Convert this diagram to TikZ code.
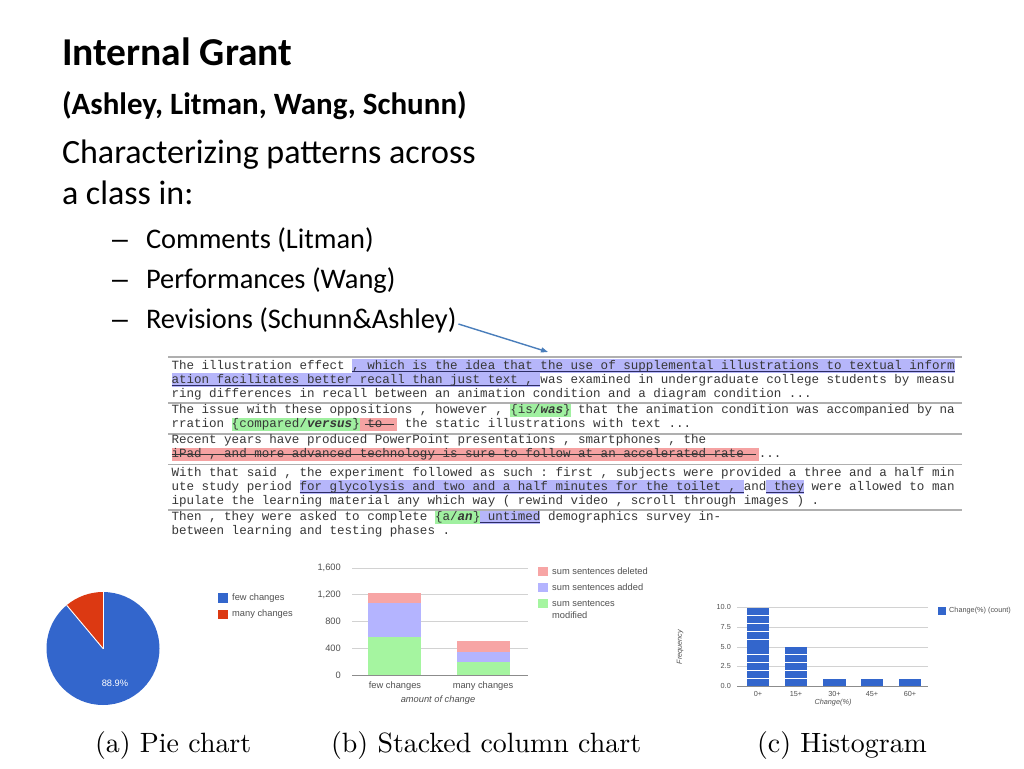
\documentclass[tikz,border=0pt]{standalone}
\usepackage{fontspec}
\usetikzlibrary{arrows.meta,calc}
\newfontfamily\calfont{Carlito}
\newfontfamily\arifont{Liberation Sans}
\newfontfamily\monofont{Liberation Mono}
\newfontfamily\capfont{lmroman10-regular.otf}
\definecolor{txtgray}{RGB}{55,55,55}
\definecolor{hlblue}{RGB}{182,182,250}
\definecolor{hlgreen}{RGB}{160,240,160}
\definecolor{hlred}{RGB}{245,162,162}
\definecolor{ulcol}{RGB}{45,45,100}
\definecolor{sepgray}{RGB}{175,175,175}
\definecolor{pieblue}{RGB}{51,102,204}
\definecolor{piered}{RGB}{220,57,18}
\definecolor{barpink}{RGB}{247,165,165}
\definecolor{barlav}{RGB}{180,180,255}
\definecolor{bargreen}{RGB}{165,245,160}
\definecolor{gridgray}{RGB}{210,210,210}
\definecolor{axisgray}{RGB}{140,140,140}
\definecolor{lblgray}{RGB}{80,80,80}
\definecolor{arrblue}{RGB}{74,126,187}
\newcommand\hlbox[4]{\fill[#1] ({171.5+7.53*#2},{#4-10}) rectangle ({171.5+7.53*#3},{#4+3.5});}
\newcommand\myul[3]{\draw[ulcol,line width=0.8pt] ({171.5+7.53*#1},{#3+2}) -- ({171.5+7.53*#2},{#3+2});}
\newcommand\mystrike[3]{\draw[txtgray,line width=0.8pt] ({171.5+7.53*#1},{#3-3.6}) -- ({171.5+7.53*#2},{#3-3.6});}
\newcommand\bi[1]{\textbf{\textit{#1}}}
\frenchspacing
\begin{document}
\begin{tikzpicture}[x=1pt,y=-1pt,
  txt/.style={anchor=base west,inner sep=0pt,outer sep=0pt},
  ttl/.style={txt,font=\calfont\bfseries\fontsize{39.5}{42}\selectfont},
  subttl/.style={txt,font=\calfont\bfseries\fontsize{31}{34}\selectfont},
  bodytxt/.style={txt,font=\calfont\fontsize{34}{38}\selectfont},
  bul/.style={txt,font=\calfont\fontsize{28.4}{32}\selectfont},
  dashtxt/.style={txt,font=\arifont\fontsize{28.4}{32}\selectfont},
  mtext/.style={txt,text=txtgray,font=\monofont\fontsize{12.55}{14}\selectfont},
  sepline/.style={sepgray,line width=1.2pt},
  captxt/.style={txt,font=\capfont\fontsize{27.9}{30}\selectfont},
  clbl/.style={inner sep=0pt,text=lblgray,font=\arifont\fontsize{9.3}{11}\selectfont},
  hlbl/.style={inner sep=0pt,text=lblgray,font=\arifont\fontsize{7.3}{9}\selectfont},
  gridln/.style={gridgray,line width=0.8pt},
  axisl/.style={axisgray,line width=1pt},
  arr/.style={arrblue,line width=1.4pt,-{Triangle[length=7pt,width=5pt]}}
]
\useasboundingbox[fill=white] (0,0) rectangle (1024,768);

% ---- headings
\node[ttl] (title) at (62,66) {Internal Grant};
\node[subttl] (authors) at (62,114) {(Ashley, Litman, Wang, Schunn)};
\node[bodytxt] (body1) at (62,163) {Characterizing patterns across};
\node[bodytxt] (body2) at (62,204) {a class in:};
\node[dashtxt] (d1) at (112,248) {–};
\node[bul] (b1) at (146,248) {Comments (Litman)};
\node[dashtxt] (d2) at (112,288) {–};
\node[bul] (b2) at (146,288) {Performances (Wang)};
\node[dashtxt] (d3) at (112,328) {–};
\node[bul] (b3) at (146,328) {Revisions (Schunn\&Ashley)};
\coordinate (tip) at (548,352);
\draw[arr] ($(b3.base east)+(2,-4)$) -- (tip);

% ---- revision text block
\foreach \yy in {357,403,434,464.5,510} {\draw[sepline] (168,\yy) -- (962,\yy);}
% highlights
\hlbox{hlblue}{24}{104}{369} \myul{24}{104}{369}
\hlbox{hlblue}{0}{49}{383} \myul{0}{49}{383}
\hlbox{hlgreen}{45}{53}{413.5}
\hlbox{hlgreen}{8}{25}{427.5}
\hlbox{hlred}{25}{30}{427.5}
\hlbox{hlred}{0}{78}{457.5}
\hlbox{hlblue}{17}{76}{490} \myul{17}{76}{490}
\hlbox{hlblue}{79}{84}{490} \myul{79}{84}{490}
\hlbox{hlgreen}{35}{41}{520.5}
\hlbox{hlblue}{41}{49}{520.5} \myul{41}{49}{520.5}
% rows
\node[mtext] (r1) at (171.5,369) {The illustration effect , which is the idea that the use of supplemental illustrations to textual inform};
\node[mtext] (r2) at (171.5,383) {ation facilitates better recall than just text , was examined in undergraduate college students by measu};
\node[mtext] (r3) at (171.5,397) {ring differences in recall between an animation condition and a diagram condition ...};
\node[mtext] (r4) at (171.5,413.5) {The issue with these oppositions , however , \{is/\bi{was}\} that the animation condition was accompanied by na};
\node[mtext] (r5) at (171.5,427.5) {rration \{compared/\bi{versus}\} to\ \ \ the static illustrations with text ...};
\node[mtext] (r6) at (171.5,443.5) {Recent years have produced PowerPoint presentations , smartphones , the};
\node[mtext] (r7) at (171.5,457.5) {iPad , and more advanced technology is sure to follow at an accelerated rate\ \ ...};
\node[mtext] (r8) at (171.5,476) {With that said , the experiment followed as such : first , subjects were provided a three and a half min};
\node[mtext] (r9) at (171.5,490) {ute study period for glycolysis and two and a half minutes for the toilet , and they were allowed to man};
\node[mtext] (r10) at (171.5,504) {ipulate the learning material any which way ( rewind video , scroll through images ) .};
\node[mtext] (r11) at (171.5,520.5) {Then , they were asked to complete \{a/\bi{an}\} untimed demographics survey in-};
\node[mtext] (r12) at (171.5,534.5) {between learning and testing phases .};
\mystrike{25.7}{29.6}{427.5}
\mystrike{0}{77.6}{457.5}

% ---- pie chart
\fill[pieblue] (103,648.5) -- ++(270:56.5) arc[start angle=270,end angle=590,radius=56.5] -- cycle;
\fill[piered] (103,648.5) -- ++(230:56.5) arc[start angle=230,end angle=270,radius=56.5] -- cycle;
\draw[white,line width=0.9pt] (103,648.5) -- ++(270:56.5);
\draw[white,line width=0.9pt] (103,648.5) -- ++(230:56.5);
\node[clbl,text=white] (pct) at (115,683) {88.9\%};
\fill[pieblue] (218,593) rectangle (228,603);
\node[clbl,anchor=west] (lg1) at (232,598) {few changes};
\fill[piered] (218,609.5) rectangle (228,619);
\node[clbl,anchor=west] (lg2) at (232,614) {many changes};

% ---- stacked column chart
\foreach \yy in {568,594.75,621.5,648.25} {\draw[gridln] (352,\yy) -- (528,\yy);}
\node[clbl,anchor=east] (s1600) at (341,568) {1,600};
\node[clbl,anchor=east] (s1200) at (341,594.75) {1,200};
\node[clbl,anchor=east] (s800) at (341,621.5) {800};
\node[clbl,anchor=east] (s400) at (341,648.25) {400};
\node[clbl,anchor=east] (s0) at (341,675) {0};
\fill[bargreen] (368,637) rectangle (421,675);
\fill[barlav] (368,603) rectangle (421,637);
\fill[barpink] (368,592.7) rectangle (421,603);
\fill[bargreen] (457,661.7) rectangle (510,675);
\fill[barlav] (457,651.7) rectangle (510,661.7);
\fill[barpink] (457,641) rectangle (510,651.7);
\draw[axisl] (352,675) -- (528,675);
\node[clbl] (xfew) at (395,686) {few changes};
\node[clbl] (xmany) at (483,686) {many changes};
\node[clbl,font=\arifont\itshape\fontsize{9.3}{11}\selectfont] (xtitle) at (438,700) {amount of change};
\fill[barpink] (538,567) rectangle (548,576);
\node[clbl,anchor=west] (sl1) at (552,571.5) {sum sentences deleted};
\fill[barlav] (538,583) rectangle (548,592);
\node[clbl,anchor=west] (sl2) at (552,587.5) {sum sentences added};
\fill[bargreen] (538,599) rectangle (548,608);
\node[clbl,anchor=west] (sl3) at (552,603.5) {sum sentences};
\node[clbl,anchor=west] (sl4) at (552,615.5) {modified};

% ---- histogram
\foreach \yy in {607,627,647,666} {\draw[gridln] (737,\yy) -- (928,\yy);}
\node[hlbl,anchor=east] (h10) at (731,607) {10.0};
\node[hlbl,anchor=east] (h75) at (731,627) {7.5};
\node[hlbl,anchor=east] (h50) at (731,647) {5.0};
\node[hlbl,anchor=east] (h25) at (731,666) {2.5};
\node[hlbl,anchor=east] (h00) at (731,686) {0.0};
\foreach \xa/\xb/\n in {747/769/10,785/807/5,823/846/1,861/883/1,899/921/1} {
  \foreach \k in {1,...,\n} {
    \fill[pieblue] (\xa,{686-7.9*(\k-1)}) rectangle (\xb,{686-7.9*\k+0.9});
  }
}
\draw[axisl] (737,686) -- (928,686);
\node[hlbl] (hx0) at (758,694) {0+};
\node[hlbl] (hx15) at (796,694) {15+};
\node[hlbl] (hx30) at (834.5,694) {30+};
\node[hlbl] (hx45) at (872,694) {45+};
\node[hlbl] (hx60) at (910,694) {60+};
\node[hlbl,font=\arifont\itshape\fontsize{7.3}{9}\selectfont] (hxt) at (833,703) {Change(\%)};
\node[hlbl,rotate=90,font=\arifont\itshape\fontsize{7.3}{9}\selectfont] (hyt) at (680,647) {Frequency};
\fill[pieblue] (938,607) rectangle (946,614.5);
\node[hlbl,anchor=west] (hleg) at (949,610.5) {Change(\%) (count)};

% ---- captions
\node[captxt] (capa) at (95,752) {(a) Pie chart};
\node[captxt] (capb) at (331,752) {(b) Stacked column chart};
\node[captxt] (capc) at (757,752) {(c) Histogram};
\end{tikzpicture}
\end{document}
